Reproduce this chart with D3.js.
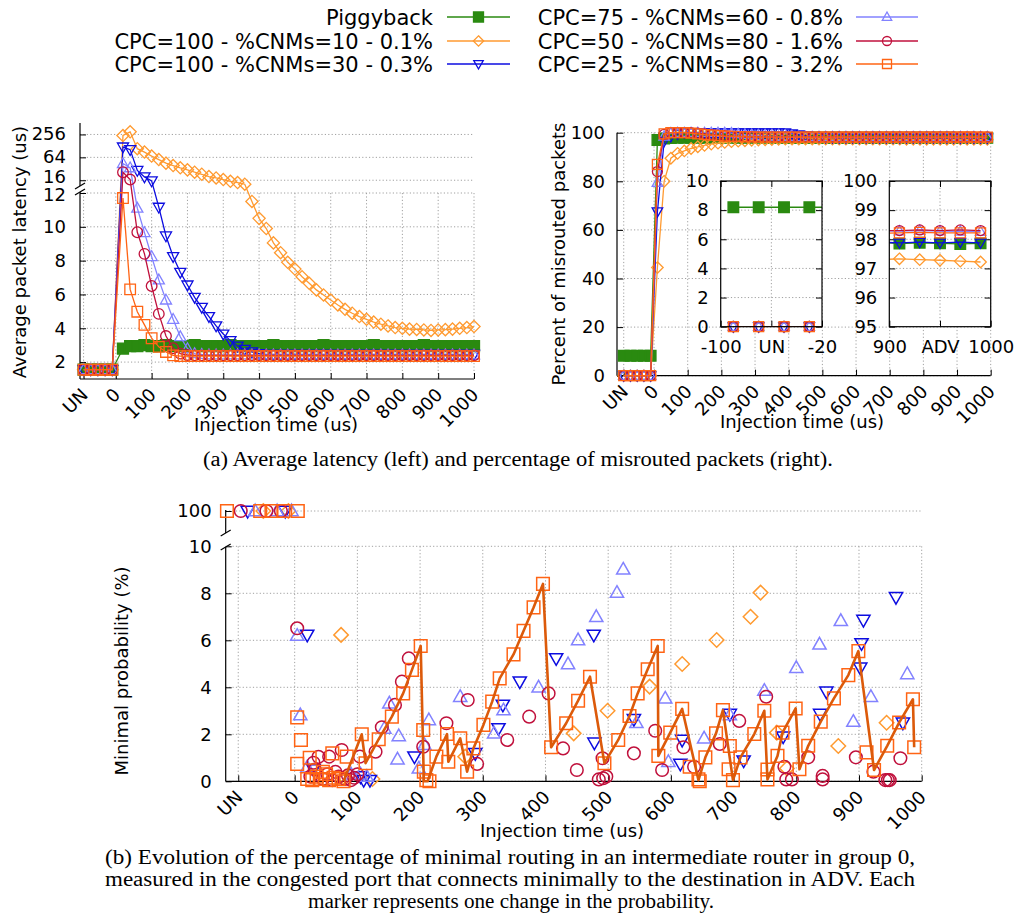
<!DOCTYPE html>
<html>
<head>
<meta charset="UTF-8">
<title>Misrouting and latency</title>
<script src="https://d3js.org/d3.v7.min.js"></script>
<style>
  body { margin: 0; background: #ffffff; }
  svg text { font-family: "DejaVu Sans", sans-serif; fill: #000; }
  svg text.cap { font-family: "Liberation Serif", "Times New Roman", serif; }
  .grid { stroke: #a0a0a0; stroke-width: 1; stroke-dasharray: 1.2,2.2; fill: none; }
</style>
</head>
<body>
<svg id="fig" width="1016" height="924"></svg>
<script>
// ---- series meta ----
const seriesNames = ['Piggyback', 'CPC=100 - %CNMs=10 - 0.1%', 'CPC=100 - %CNMs=30 - 0.3%',
                     'CPC=75 - %CNMs=60 - 0.8%', 'CPC=50 - %CNMs=80 - 1.6%', 'CPC=25 - %CNMs=80 - 3.2%'];
const seriesColors = ['#2a8a10', '#ff9a30', '#0c0ce0', '#8282ff', '#c0103c', '#ff6414'];
const seriesShapes = ['square', 'diamond', 'tdown', 'tup', 'circle', 'square'];

// ---- (a) left: average packet latency (us) ----
const latT = [-90, -70, -50, -30, -10,
  20, 40, 60, 80, 100, 120, 140, 160, 180, 200,
  220, 240, 260, 280, 300, 320, 340, 360, 380, 400,
  420, 440, 460, 480, 500, 520, 540, 560, 580, 600,
  620, 640, 660, 680, 700, 720, 740, 760, 780, 800,
  820, 840, 860, 880, 900, 920, 940, 960, 980, 1000];
const latPiggy = [1.55, 1.55, 1.55, 1.55, 1.55,
  2.80, 2.95, 2.95, 3.00, 2.95, 2.95, 3.00, 2.95, 2.95, 2.95,
  3.00, 2.95, 2.95, 2.95, 2.95, 3.00, 2.95, 2.95, 2.95, 2.95,
  2.95, 3.00, 2.95, 2.95, 2.95, 2.95, 2.95, 2.95, 3.00, 2.95,
  2.95, 2.95, 2.95, 2.95, 2.95, 3.00, 2.95, 2.95, 2.95, 2.95,
  2.95, 2.95, 3.00, 2.95, 2.95, 2.95, 2.95, 2.95, 2.95, 2.95];
const latC10 = [1.55, 1.55, 1.55, 1.55, 1.55,
  240, 300, 108, 88, 69, 56, 45, 39, 34, 30,
  26, 23, 20, 18.4, 16.7, 15, 13.9, 12.6, 11.5, 10.5,
  9.9, 9.05, 8.47, 7.9, 7.5, 7.05, 6.66, 6.27, 5.97, 5.67,
  5.38, 5.12, 4.89, 4.69, 4.53, 4.37, 4.24, 4.14, 4.04, 4.0,
  3.95, 3.93, 3.9, 3.87, 3.9, 3.92, 3.95, 4.0, 4.04, 4.1];
const latC30 = [1.55, 1.55, 1.55, 1.55, 1.55,
  120, 102, 29, 19.6, 15.4, 11.16, 9.46, 8.24, 7.31, 6.56,
  5.83, 5.24, 4.69, 4.14, 3.66, 3.27, 2.95, 2.75, 2.6, 2.5,
  2.45, 2.45, 2.45, 2.45, 2.45, 2.45, 2.45, 2.45, 2.45, 2.45,
  2.45, 2.45, 2.45, 2.45, 2.45, 2.45, 2.45, 2.45, 2.45, 2.45,
  2.45, 2.45, 2.45, 2.45, 2.45, 2.45, 2.45, 2.45, 2.45, 2.45];
const latC75 = [1.55, 1.55, 1.55, 1.55, 1.55,
  44, 34, 11.1, 9.66, 8.24, 6.86, 5.67, 4.53, 3.5, 2.8,
  2.5, 2.45, 2.42, 2.42, 2.42, 2.42, 2.42, 2.42, 2.42, 2.42,
  2.42, 2.42, 2.42, 2.42, 2.42, 2.42, 2.42, 2.42, 2.42, 2.42,
  2.42, 2.42, 2.42, 2.42, 2.42, 2.42, 2.42, 2.42, 2.42, 2.42,
  2.42, 2.42, 2.42, 2.42, 2.42, 2.42, 2.42, 2.42, 2.42, 2.42];
const latC50 = [1.55, 1.55, 1.55, 1.55, 1.55,
  26, 16.7, 9.68, 8.4, 6.5, 4.85, 3.54, 2.82, 2.5, 2.42,
  2.4, 2.4, 2.4, 2.4, 2.4, 2.4, 2.4, 2.4, 2.4, 2.4,
  2.4, 2.4, 2.4, 2.4, 2.4, 2.4, 2.4, 2.4, 2.4, 2.4,
  2.4, 2.4, 2.4, 2.4, 2.4, 2.4, 2.4, 2.4, 2.4, 2.4,
  2.4, 2.4, 2.4, 2.4, 2.4, 2.4, 2.4, 2.4, 2.4, 2.4];
const latC25 = [1.55, 1.55, 1.55, 1.55, 1.55,
  11.7, 6.3, 4.98, 4.2, 3.41, 2.9, 2.6, 2.4, 2.35, 2.35,
  2.35, 2.35, 2.35, 2.35, 2.35, 2.35, 2.35, 2.35, 2.35, 2.35,
  2.35, 2.35, 2.35, 2.35, 2.35, 2.35, 2.35, 2.35, 2.35, 2.35,
  2.35, 2.35, 2.35, 2.35, 2.35, 2.35, 2.35, 2.35, 2.35, 2.35,
  2.35, 2.35, 2.35, 2.35, 2.35, 2.35, 2.35, 2.35, 2.35, 2.35];

// ---- (a) right: percent of misrouted packets ----
const misT = [-90, -70, -50, -30, -10,
  10, 30, 50, 70, 90, 110, 130, 150, 170, 190,
  210, 230, 250, 270, 290, 310, 330, 350, 370, 390,
  410, 430, 450, 470, 490, 510, 530, 550, 570, 590,
  610, 630, 650, 670, 690, 710, 730, 750, 770, 790,
  810, 830, 850, 870, 890, 910, 930, 950, 970, 990];
const misPiggy = [8.2, 8.2, 8.2, 8.2, 8.2,
  97.0, 97.6, 97.8, 97.9, 97.9, 97.9, 97.9, 97.9, 97.9, 97.9,
  97.9, 97.9, 97.9, 97.9, 97.9, 97.9, 97.9, 97.9, 97.9, 97.9,
  97.9, 97.9, 97.9, 97.9, 97.9, 97.9, 97.9, 97.9, 97.9, 97.9,
  97.9, 97.9, 97.9, 97.9, 97.9, 97.9, 97.9, 97.9, 97.9, 97.9,
  97.9, 97.9, 97.9, 97.9, 97.9, 97.85, 97.88, 97.86, 97.84, 97.86];
const misC10 = [0, 0, 0, 0, 0,
  44.5, 80, 89.5, 91.5, 92.5, 93.5, 94.2, 94.8, 95.3, 95.7,
  96.0, 96.3, 96.5, 96.7, 96.9, 97.0, 97.1, 97.2, 97.3, 97.35,
  97.4, 97.4, 97.4, 97.4, 97.4, 97.4, 97.4, 97.4, 97.4, 97.4,
  97.4, 97.4, 97.35, 97.35, 97.35, 97.35, 97.35, 97.3, 97.3, 97.3,
  97.3, 97.3, 97.3, 97.3, 97.3, 97.33, 97.3, 97.28, 97.25, 97.22];
const misC30 = [0, 0, 0, 0, 0,
  67.5, 96.5, 98.5, 99.5, 100, 100, 100, 100, 100, 100,
  100, 100, 100, 100, 100, 100, 100, 100, 100, 100,
  99.6, 99.2, 98.8, 98.5, 98.3, 98.1, 98.0, 97.9, 97.9, 97.9,
  97.9, 97.9, 97.9, 97.9, 97.9, 97.9, 97.9, 97.9, 97.9, 97.9,
  97.9, 97.9, 97.9, 97.9, 97.9, 97.88, 97.9, 97.88, 97.9, 97.88];
const misC75 = [0, 0, 0, 0, 0,
  79.5, 98.5, 99.8, 100, 100, 100, 100, 100, 100, 100,
  100, 99.8, 99.5, 99.2, 99.0, 98.8, 98.6, 98.5, 98.4, 98.35,
  98.3, 98.3, 98.3, 98.3, 98.3, 98.3, 98.3, 98.3, 98.3, 98.3,
  98.3, 98.3, 98.3, 98.3, 98.3, 98.3, 98.3, 98.3, 98.3, 98.3,
  98.3, 98.3, 98.3, 98.3, 98.3, 98.28, 98.3, 98.28, 98.27, 98.26];
const misC50 = [0, 0, 0, 0, 0,
  84, 99.3, 100, 100, 100, 100, 99.8, 99.5, 99.2, 99.0,
  98.8, 98.6, 98.5, 98.4, 98.35, 98.3, 98.3, 98.3, 98.3, 98.3,
  98.3, 98.3, 98.3, 98.3, 98.3, 98.3, 98.3, 98.3, 98.3, 98.3,
  98.3, 98.3, 98.3, 98.3, 98.3, 98.3, 98.3, 98.3, 98.3, 98.3,
  98.3, 98.3, 98.3, 98.3, 98.3, 98.3, 98.32, 98.3, 98.32, 98.3];
const misC25 = [0, 0, 0, 0, 0,
  87, 99.5, 100, 100, 100, 99.8, 99.5, 99.2, 99.0, 98.8,
  98.6, 98.5, 98.4, 98.3, 98.25, 98.2, 98.2, 98.2, 98.2, 98.2,
  98.2, 98.2, 98.2, 98.2, 98.2, 98.2, 98.2, 98.2, 98.2, 98.2,
  98.2, 98.2, 98.2, 98.2, 98.2, 98.2, 98.2, 98.2, 98.2, 98.2,
  98.2, 98.2, 98.2, 98.2, 98.2, 98.22, 98.24, 98.22, 98.22, 98.22];

// ---- (b) minimal probability (%) : [time, value] ----
const probC10 = [[74, 6.23], [80, 0.15], [124, 0.1], [272, 1.05], [445, 2.04], [499, 3.0], [566, 4.03],
  [618, 4.99], [673, 6.01], [727, 7.0], [743, 8.03], [769, 2.07], [785, 0.55], [867, 1.5], [944, 2.49],
  [-50, 100], [-10, 100]];
const probC30 = [[20, 6.23], [30, 0.5], [105, 0.2], [110, 0.05], [120, 0.05], [191, 1.05], [288, 1.19],
  [325, 2.25], [332, 3.25], [359, 4.24], [417, 5.23], [477, 6.23], [478, 1.64], [541, 2.64], [618, 1.76],
  [615, 0.74], [694, 2.86], [716, 0.88], [779, 1.9], [838, 2.86], [848, 3.81], [902, 4.83], [904, 5.87],
  [907, 6.86], [959, 7.83], [970, 2.49], [-75, 100], [-15, 100]];
const probC75 = [[4, 6.2], [9, 2.82], [20, 0.6], [90, 0.3], [105, 0.3], [115, 0.2], [143, 2.25], [151, 3.32],
  [164, 0.94], [166, 1.93], [198, 0.55], [207, 1.55], [214, 2.61], [264, 3.6], [318, 2.04], [333, 3.03],
  [389, 4.0], [436, 4.99], [452, 6.01], [481, 7.0], [514, 8.03], [524, 9.02], [545, 2.49], [591, 3.53],
  [596, 0.83], [653, 1.83], [694, 2.82], [749, 3.86], [800, 4.83], [837, 5.83], [871, 6.83], [891, 2.54],
  [919, 3.6], [977, 4.57], [-63, 100], [-28, 100], [-5, 100]];
const probC50 = [[4, 6.51], [25, 0.2], [30, 0.79], [32, 0.5], [38, 1.04], [45, 0.1], [52, 0.3], [55, 1.05],
  [60, 0.05], [65, 0.4], [70, 0.2], [75, 1.33], [80, 0.1], [85, 0.25], [90, 0.05], [95, 0.15], [100, 0.3],
  [104, 1.05], [129, 1.26], [139, 2.3], [160, 3.25], [171, 4.24], [182, 5.23], [205, 1.47], [242, 2.47],
  [276, 3.46], [291, 0.74], [339, 1.76], [374, 2.75], [405, 3.74], [428, 1.4], [450, 0.48], [485, 0.08],
  [492, 0.13], [497, 0.2], [491, 0.98], [541, 1.19], [575, 2.15], [586, 0.48], [620, 1.45], [637, 0.62],
  [678, 1.59], [709, 2.57], [752, 3.6], [781, 0.62], [784, 0.08], [793, 0.08], [819, 1.02], [842, 0.23],
  [842, 0.08], [895, 1.02], [923, 0.41], [942, 0.05], [946, 0.05], [949, 0.05], [966, 0.98],
  [-86, 100], [-45, 100], [-22, 100]];
const probC25 = [[4, 2.72], [10, 1.76], [4, 0.74], [20, 0.1], [24, 1.0], [28, 0.05], [35, 0.2], [42, 0.1],
  [45, 0.4], [50, 0.3], [55, 0.05], [60, 1.19], [62, 0.15], [70, 0.1], [78, 0.0], [83, 1.05], [107, 2.0],
  [113, 0.77], [134, 1.79], [155, 2.75], [173, 3.74], [187, 4.74], [201, 5.76], [205, 2.18], [206, 0.41],
  [210, 0.05], [215, 0.0], [226, 1.05], [243, 2.01], [245, 0.83], [264, 1.83], [275, 0.41], [285, 1.4],
  [301, 2.4], [315, 3.39], [327, 4.38], [349, 5.4], [365, 6.4], [381, 7.4], [396, 8.4], [409, 1.45],
  [433, 2.47], [452, 3.43], [471, 4.45], [494, 0.77], [516, 1.76], [534, 2.78], [547, 3.74], [563, 4.77],
  [579, 5.76], [580, 1.08], [599, 2.07], [618, 3.08], [630, 0.62], [644, 0.08], [646, 0.0], [655, 1.02],
  [672, 2.04], [683, 3.03], [692, 0.51], [694, 1.5], [699, 0.05], [711, 1.02], [733, 2.01], [749, 3.0],
  [754, 0.5], [754, 0.08], [770, 1.08], [778, 2.07], [799, 3.1], [805, 0.51], [819, 1.51], [839, 2.54],
  [860, 3.53], [883, 4.52], [899, 5.54], [912, 1.23], [924, 0.48], [945, 1.51], [964, 2.5], [986, 3.49],
  [988, 1.45], [-108, 100], [-55, 100], [-37, 100], [-18, 100], [5, 100]];
const probC25Line = [[78, 0], [107, 2.0], [113, 0.77], [134, 1.79], [155, 2.75], [173, 3.74], [187, 4.74],
  [201, 5.76], [206, 0.0], [212, 0.0], [226, 1.05], [243, 2.01], [245, 0.83], [264, 1.83], [275, 0.41],
  [285, 1.4], [301, 2.4], [315, 3.39], [327, 4.38], [349, 5.4], [365, 6.4], [381, 7.4], [396, 8.4],
  [409, 1.45], [433, 2.47], [452, 3.43], [471, 4.45], [494, 0.77], [516, 1.76], [534, 2.78], [547, 3.74],
  [563, 4.77], [579, 5.76], [580, 1.08], [599, 2.07], [618, 3.08], [644, 0.05], [655, 1.02], [672, 2.04],
  [683, 3.03], [699, 0.05], [711, 1.02], [733, 2.01], [749, 3.0], [754, 0.08], [770, 1.08], [778, 2.07],
  [799, 3.1], [805, 0.51], [819, 1.51], [839, 2.54], [860, 3.53], [883, 4.52], [899, 5.54], [924, 0.48],
  [945, 1.51], [964, 2.5], [986, 3.49], [988, 1.45]];

// ---- ticks & captions ----
const timeTicks = [-90, 0, 100, 200, 300, 400, 500, 600, 700, 800, 900, 1000];
const latLowTicks = [2, 4, 6, 8, 10, 12];
const latHighTicks = [16, 64, 256];
const misTicks = [0, 20, 40, 60, 80, 100];
const inset1Ticks = [0, 2, 4, 6, 8, 10];
const inset2Ticks = [95, 96, 97, 98, 99, 100];
const probTicks = [0, 2, 4, 6, 8, 10];
const capA = '(a) Average latency (left) and percentage of misrouted packets (right).';
const capB = ['(b) Evolution of the percentage of minimal routing in an intermediate router in group 0,',
              'measured in the congested port that connects minimally to the destination in ADV. Each',
              'marker represents one change in the probability.'];

const latSeries = [latPiggy, latC10, latC30, latC75, latC50, latC25];
const misSeries = [misPiggy, misC10, misC30, misC75, misC50, misC25];

const svg = d3.select('#fig');
const timeFmt = d => d === -90 ? 'UN' : d;

function markerPath(shape, s) {
    if (shape === 'square') return `M${-s},${-s}H${s}V${s}H${-s}Z`;
    if (shape === 'diamond') return `M0,${-s * 1.15}L${s * 1.15},0L0,${s * 1.15}L${-s * 1.15},0Z`;
    if (shape === 'tup') return `M0,${-s * 1.1}L${s * 1.05},${s * 0.75}L${-s * 1.05},${s * 0.75}Z`;
    if (shape === 'tdown') return `M0,${s * 1.1}L${s * 1.05},${-s * 0.75}L${-s * 1.05},${-s * 0.75}Z`;
    return d3.symbol(d3.symbolCircle, Math.PI * s * s)();
}

function drawMarkers(g, pts, i, s, sw) {
    g.append('g').selectAll('path').data(pts).join('path')
        .attr('transform', p => `translate(${p[0]},${p[1]})`)
        .attr('d', markerPath(seriesShapes[i], s))
        .attr('fill', i === 0 ? seriesColors[i] : 'none')
        .attr('stroke', seriesColors[i])
        .attr('stroke-width', sw);
}

function drawSeries(g, ts, vs, x, y, i, s, clip, keep) {
    const pts = ts.map((t, k) => [x(t), y(vs[k]), t, vs[k]]);
    const line = g.append('path').attr('d', d3.line()(pts.map(p => [p[0], p[1]])))
        .attr('fill', 'none').attr('stroke', seriesColors[i]).attr('stroke-width', 1.3);
    if (clip) line.attr('clip-path', `url(#${clip})`);
    drawMarkers(g, keep ? pts.filter(keep) : pts, i, s, 1.3);
}

function styleXLabels(axisG, dy) {
    axisG.selectAll('.tick text')
        .attr('font-size', 18).attr('font-family', 'DejaVu Sans')
        .attr('text-anchor', 'end').attr('x', 0).attr('y', 0).attr('dy', 0)
        .attr('transform', `translate(5,${dy}) rotate(-45)`);
    axisG.selectAll('.tick line').attr('stroke', '#000');
    axisG.select('.domain').remove();
}
function styleYLabels(axisG) {
    axisG.selectAll('.tick text').attr('font-size', 18).attr('font-family', 'DejaVu Sans');
    axisG.selectAll('.tick line').attr('stroke', '#000');
    axisG.select('.domain').remove();
}
function hline(g, x1, x2, y, cls) {
    g.append('line').attr('x1', x1).attr('x2', x2).attr('y1', y).attr('y2', y)
        .attr('class', cls || null).attr('stroke', cls ? null : '#000').attr('stroke-width', cls ? null : 1.2);
}
function vline(g, x, y1, y2, cls) {
    g.append('line').attr('x1', x).attr('x2', x).attr('y1', y1).attr('y2', y2)
        .attr('class', cls || null).attr('stroke', cls ? null : '#000').attr('stroke-width', cls ? null : 1.2);
}
function breakMark(g, x, y) {
    g.append('line').attr('x1', x - 5).attr('x2', x + 5).attr('y1', y + 3).attr('y2', y - 3)
        .attr('stroke', '#000').attr('stroke-width', 1.2);
}

const defs = svg.append('defs');

// ================= Legend =================
const leg = svg.append('g');
seriesNames.forEach((name, i) => {
    const col = i < 3 ? 0 : 1, row = i % 3;
    const ty = [17, 41, 64][row];
    const textEnd = col === 0 ? 433 : 843;
    const l0 = col === 0 ? 447 : 856, l1 = col === 0 ? 510 : 918;
    leg.append('text').attr('x', textEnd).attr('y', ty).attr('dy', '0.36em')
        .attr('text-anchor', 'end').attr('font-size', 21).text(name);
    leg.append('line').attr('x1', l0).attr('x2', l1).attr('y1', ty).attr('y2', ty)
        .attr('stroke', seriesColors[i]).attr('stroke-width', 1.5);
    drawMarkers(leg, [[(l0 + l1) / 2, ty]], i, i === 0 ? 5 : 4.5, 1.3);
});

// ================= (a) left : latency =================
const xL = d3.scaleLinear().domain([-100, 1000]).range([80, 474]);
const yLo = d3.scaleLinear().domain([1, 12]).range([379, 193]);
const yHi = d3.scaleLog().base(2).domain([12, 512]).range([185, 123]);
const yLat = v => v <= 12 ? yLo(v) : yHi(v);
const gL = svg.append('g');

timeTicks.forEach(t => vline(gL, xL(t), 193, 379, 'grid'));
latLowTicks.forEach(v => hline(gL, 80, 474, yLo(v), 'grid'));
latHighTicks.forEach(v => hline(gL, 80, 474, yHi(v), 'grid'));

const axLB = gL.append('g').attr('transform', 'translate(0,379)')
    .call(d3.axisBottom(xL).tickValues(timeTicks).tickFormat(timeFmt).tickSize(-6));
styleXLabels(axLB, 17);
const axLLo = gL.append('g').attr('transform', 'translate(80,0)')
    .call(d3.axisLeft(yLo).tickValues(latLowTicks).tickSize(-6).tickPadding(14));
styleYLabels(axLLo);
axLLo.selectAll('.tick text').filter(d => d === 12).attr('dy', '0.42em');
const axLHi = gL.append('g').attr('transform', 'translate(80,0)')
    .call(d3.axisLeft(yHi).tickValues(latHighTicks).tickFormat(d3.format('d')).tickSize(-6).tickPadding(14));
styleYLabels(axLHi);
axLHi.selectAll('.tick text').attr('dy', '0.26em');
axLHi.selectAll('.tick text').filter(d => d === 16).attr('dy', '0.12em');
hline(gL, 80, 474, 379);
vline(gL, 80, 123, 186);
vline(gL, 80, 192, 379);
breakMark(gL, 80, 186);
breakMark(gL, 80, 192);

latSeries.forEach((vs, i) => drawSeries(gL, latT, vs, xL, yLat, i, i === 0 ? 5.5 : 5.3));

gL.append('text').attr('transform', 'translate(20,252) rotate(-90)').attr('text-anchor', 'middle')
    .attr('dy', '0.35em').attr('font-size', 18).text('Average packet latency (us)');
gL.append('text').attr('x', 276).attr('y', 431).attr('text-anchor', 'middle')
    .attr('font-size', 18).text('Injection time (us)');

// ================= (a) right : misrouted =================
const xR = d3.scaleLinear().domain([-110, 1000]).range([617, 990.7]);
const yR = d3.scaleLinear().domain([0, 100]).range([375.7, 132.7]);
const gR = svg.append('g');

timeTicks.forEach(t => vline(gR, xR(t), 132.7, 375.7, 'grid'));
misTicks.forEach(v => hline(gR, 617, 990.7, yR(v), 'grid'));
const axRB = gR.append('g').attr('transform', 'translate(0,375.7)')
    .call(d3.axisBottom(xR).tickValues(timeTicks).tickFormat(timeFmt).tickSize(-6));
styleXLabels(axRB, 17);
const axRL = gR.append('g').attr('transform', 'translate(617,0)')
    .call(d3.axisLeft(yR).tickValues(misTicks).tickSize(-6).tickPadding(12));
styleYLabels(axRL);
hline(gR, 617, 990.7, 375.7);
vline(gR, 617, 132.7, 375.7);

misSeries.forEach((vs, i) => drawSeries(gR, misT, vs, xR, yR, i, i === 0 ? 5.3 : 5));

gR.append('text').attr('transform', 'translate(559,254) rotate(-90)').attr('text-anchor', 'middle')
    .attr('dy', '0.35em').attr('font-size', 18).text('Percent of misrouted packets');
gR.append('text').attr('x', 802).attr('y', 428).attr('text-anchor', 'middle')
    .attr('font-size', 18).text('Injection time (us)');

// insets
function drawInset(id, xDom, xRange, yDom, yTicks, xLabels) {
    const x = d3.scaleLinear().domain(xDom).range(xRange);
    const y = d3.scaleLinear().domain(yDom).range([326.7, 181]);
    const g = svg.append('g');
    defs.append('clipPath').attr('id', id).append('rect')
        .attr('x', xRange[0]).attr('y', 181).attr('width', xRange[1] - xRange[0]).attr('height', 145.7);
    g.append('rect').attr('x', xRange[0]).attr('y', 181).attr('width', xRange[1] - xRange[0])
        .attr('height', 145.7).attr('fill', '#fff');
    const mid = (xDom[0] + xDom[1]) / 2;
    vline(g, x(mid), 181, 326.7, 'grid');
    yTicks.slice(1, -1).forEach(v => hline(g, xRange[0], xRange[1], y(v), 'grid'));
    const ay = g.append('g').attr('transform', `translate(${xRange[0]},0)`)
        .call(d3.axisLeft(y).tickValues(yTicks).tickFormat(d3.format('d')).tickSize(-6).tickPadding(12));
    styleYLabels(ay);
    const ay2 = g.append('g').attr('transform', `translate(${xRange[1]},0)`)
        .call(d3.axisRight(y).tickValues(yTicks).tickSize(-6).tickFormat(''));
    styleYLabels(ay2);
    const ax = g.append('g').attr('transform', 'translate(0,326.7)')
        .call(d3.axisBottom(x).tickValues([xDom[0], mid, xDom[1]]).tickSize(-6).tickPadding(14)
            .tickFormat((d, k) => xLabels[k]));
    styleYLabels(ax);
    const ax2 = g.append('g').attr('transform', 'translate(0,181)')
        .call(d3.axisTop(x).tickValues([xDom[0], mid, xDom[1]]).tickSize(-6).tickFormat(''));
    styleYLabels(ax2);
    misSeries.forEach((vs, i) => drawSeries(g, misT, vs, x, y, i, i === 0 ? 5.3 : 5, id,
        p => p[2] >= xDom[0] && p[2] <= xDom[1] && p[3] >= yDom[0] && p[3] <= yDom[1]));
    g.append('rect').attr('x', xRange[0]).attr('y', 181).attr('width', xRange[1] - xRange[0])
        .attr('height', 145.7).attr('fill', 'none').attr('stroke', '#000').attr('stroke-width', 1.2);
}
drawInset('clipIn1', [-100, -20], [720.7, 822], [0, 10], inset1Ticks, ['-100', 'UN', '-20']);
drawInset('clipIn2', [900, 1000], [889.3, 990.7], [95, 100], inset2Ticks, ['900', 'ADV', '1000']);

svg.append('text').attr('class', 'cap').attr('x', 518).attr('y', 466).attr('text-anchor', 'middle')
    .attr('font-size', 20).attr('textLength', 630).attr('lengthAdjust', 'spacingAndGlyphs').text(capA);

// ================= (b) minimal probability =================
const xB = d3.scaleLinear().domain([-110, 1000]).range([225.7, 921.7]);
const yB = d3.scaleLinear().domain([0, 10]).range([781.3, 546.3]);
const yBT = d3.scaleLinear().domain([90, 102]).range([531, 507]);
const yProb = v => v >= 90 ? yBT(v) : yB(v);
const gB = svg.append('g');

timeTicks.forEach(t => vline(gB, xB(t), 546.3, 781.3, 'grid'));
probTicks.forEach(v => hline(gB, 225.7, 921.7, yB(v), 'grid'));
hline(gB, 225.7, 921.7, yBT(100), 'grid');
const axBB = gB.append('g').attr('transform', 'translate(0,781.3)')
    .call(d3.axisBottom(xB).tickValues(timeTicks).tickFormat(timeFmt).tickSize(-6));
styleXLabels(axBB, 17);
const axBL = gB.append('g').attr('transform', 'translate(225.7,0)')
    .call(d3.axisLeft(yB).tickValues(probTicks).tickSize(-6).tickPadding(14));
styleYLabels(axBL);
const axBT = gB.append('g').attr('transform', 'translate(225.7,0)')
    .call(d3.axisLeft(yBT).tickValues([100]).tickSize(-6).tickPadding(14));
styleYLabels(axBT);
hline(gB, 225.7, 921.7, 781.3);
vline(gB, 225.7, 510, 533);
vline(gB, 225.7, 547, 781.3);
breakMark(gB, 225.7, 533);
breakMark(gB, 225.7, 547);

const probSeries = [[1, probC10], [2, probC30], [3, probC75], [4, probC50], [5, probC25]];
probSeries.forEach(([i, pts]) => drawMarkers(gB, pts.map(p => [xB(p[0]), yProb(p[1])]), i, 6.3, 1.5));
gB.append('path').attr('d', d3.line().x(p => xB(p[0])).y(p => yB(p[1]))(probC25Line))
    .attr('fill', 'none').attr('stroke', '#dc5a0a').attr('stroke-width', 2.6).attr('stroke-linejoin', 'round');

gB.append('text').attr('transform', 'translate(122,671) rotate(-90)').attr('text-anchor', 'middle')
    .attr('dy', '0.35em').attr('font-size', 18).text('Minimal probability (%)');
gB.append('text').attr('x', 562).attr('y', 837).attr('text-anchor', 'middle')
    .attr('font-size', 18).text('Injection time (us)');

svg.append('text').attr('class', 'cap').attr('x', 105).attr('y', 864).attr('font-size', 20)
    .attr('textLength', 810).attr('lengthAdjust', 'spacingAndGlyphs').text(capB[0]);
svg.append('text').attr('class', 'cap').attr('x', 105).attr('y', 886).attr('font-size', 20)
    .attr('textLength', 810).attr('lengthAdjust', 'spacingAndGlyphs').text(capB[1]);
svg.append('text').attr('class', 'cap').attr('x', 511).attr('y', 908).attr('font-size', 20)
    .attr('text-anchor', 'middle').attr('textLength', 406).attr('lengthAdjust', 'spacingAndGlyphs')
    .text(capB[2]);
</script>
</body>
</html>
